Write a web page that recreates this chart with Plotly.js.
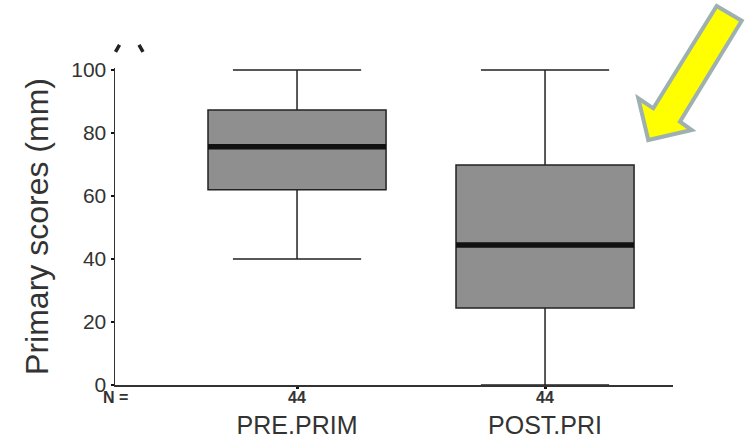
<!DOCTYPE html>
<html>
<head>
<meta charset="utf-8">
<script src="https://cdn.plot.ly/plotly-3.0.1.min.js"></script>
<style>html,body{margin:0;padding:0;background:#fff;}#chart{width:748px;height:439px;}</style>
</head>
<body>
<div id="chart"></div>
<script>
// ---- data ----
const categories = ['PRE.PRIM', 'POST.PRI'];
const nCounts = [44, 44];
const lowerWhisker = [40, 0];
const q1Values = [62, 24.4];
const medianValues = [75.6, 44.4];
const q3Values = [87.3, 69.8];
const upperWhisker = [100, 100];
const yTickValues = [0, 20, 40, 60, 80, 100];

// ---- style / layout constants ----
const W = 748, H = 439;
const M = {l: 115, r: 75, t: 68, b: 54};
const BOX_W = 0.718;
const FONT = '"Liberation Sans", Arial, sans-serif';
const positions = categories.map((c, i) => i);

const boxTrace = {
  type: 'box',
  x: positions,
  q1: q1Values,
  median: medianValues,
  q3: q3Values,
  lowerfence: lowerWhisker,
  upperfence: upperWhisker,
  width: BOX_W,
  whiskerwidth: 0.72,
  boxpoints: false,
  fillcolor: '#8f8f8f',
  line: {color: '#222', width: 1.5},
  hoverinfo: 'skip',
  showlegend: false
};

const medX = [], medY = [];
positions.forEach((p, i) => {
  medX.push(p - BOX_W / 2, p + BOX_W / 2, null);
  medY.push(medianValues[i], medianValues[i], null);
});
const medianTrace = {
  type: 'scatter', mode: 'lines', x: medX, y: medY,
  line: {color: '#111', width: 5.5}, hoverinfo: 'skip', showlegend: false
};

const xRange = [-0.734, 1.516];
const plotW = W - M.l - M.r, plotH = H - M.t - M.b;
const px = x => (x - M.l) / plotW;
const py = y => (H - M.b - y) / plotH;
const arrowPts = [[716.7, 6], [741.7, 20.7], [680, 121.7], [691.7, 130], [648.3, 140], [638.3, 98.3], [653.3, 108.3]];
const arrowPath = 'M ' + arrowPts.map(p => px(p[0]).toFixed(4) + ',' + py(p[1]).toFixed(4)).join(' L ') + ' Z';
const aPath = 'M ' + px(119.5).toFixed(4) + ',' + py(45).toFixed(4) + ' L ' + px(115.5).toFixed(4) + ',' + py(52).toFixed(4) +
  ' M ' + px(139).toFixed(4) + ',' + py(45).toFixed(4) + ' L ' + px(143).toFixed(4) + ',' + py(52).toFixed(4);

const annotations = positions.map((p, i) => ({
  x: p, y: 0, xref: 'x', yref: 'y', yanchor: 'top', xanchor: 'center', yshift: -2,
  text: '<b>' + nCounts[i] + '</b>', showarrow: false,
  font: {family: FONT, size: 16, color: '#333'}
}));
annotations.push({
  x: xRange[0], y: 0, xref: 'x', yref: 'y', yanchor: 'top', xanchor: 'center', yshift: -2,
  text: '<b>N =</b>', showarrow: false, font: {family: FONT, size: 16, color: '#333'}
});

const layout = {
  width: W, height: H,
  margin: M,
  paper_bgcolor: '#fff', plot_bgcolor: '#fff',
  font: {family: FONT, color: '#333'},
  showlegend: false,
  xaxis: {
    range: xRange, showgrid: false, zeroline: false,
    showline: true, linecolor: '#333', linewidth: 1.5,
    tickmode: 'array', tickvals: positions, ticktext: categories,
    ticks: 'outside', ticklen: 2, tickwidth: 3, tickcolor: '#111',
    ticklabelstandoff: 15,
    tickfont: {family: FONT, size: 25, color: '#333'}
  },
  yaxis: {
    range: [0, 100.6], showgrid: false, zeroline: false,
    showline: true, linecolor: '#333', linewidth: 1.5,
    tickmode: 'array', tickvals: yTickValues,
    ticks: 'outside', ticklen: 3, tickwidth: 2, tickcolor: '#111',
    tickfont: {family: FONT, size: 21, color: '#333'},
    title: {text: 'Primary scores (mm)', font: {family: FONT, size: 32, color: '#333'}, standoff: 13}
  },
  shapes: [
    {type: 'path', xref: 'paper', yref: 'paper', path: arrowPath,
     fillcolor: '#ffff00', line: {color: '#9eb0b0', width: 4}, layer: 'above'},
    {type: 'path', xref: 'paper', yref: 'paper', path: aPath,
     line: {color: '#222', width: 3.5}, layer: 'above'}
  ],
  annotations: annotations
};

Plotly.newPlot('chart', [boxTrace, medianTrace], layout, {displayModeBar: false, staticPlot: true});
</script>
</body>
</html>
